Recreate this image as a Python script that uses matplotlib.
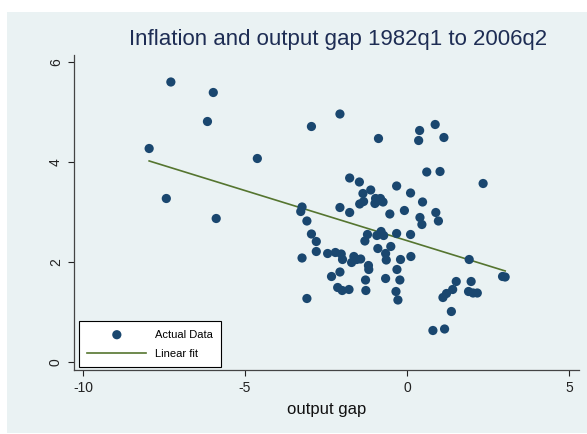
import numpy as np
import matplotlib
matplotlib.use('Agg')
import matplotlib.pyplot as plt
from matplotlib.patches import Rectangle

plt.rcParams['font.family'] = ['Liberation Sans', 'DejaVu Sans']
plt.rcParams['axes.unicode_minus'] = False

# output gap (x) and inflation (y)
gap = [-7.29, -5.98, -6.16, -7.96, -4.62, -7.43, -5.89,
       -2.07, -2.95, -0.88, 0.39, 0.87, 0.36, 1.14, 0.61, 1.02, 2.35,
       -1.77, -1.47, -1.36, -1.12, -0.32, 0.11, 0.48, -1.46, -1.34,
       -0.97, -0.82, -0.99, -0.74, -0.93,
       -2.07, -1.77, -0.08, -0.53, -3.24, -3.28, -3.09, 0.89, 0.40, 0.46, 0.97,
       -2.95, -2.80, -1.22, -1.30, -0.93, -0.80, -0.72, -0.32, 0.11,
       -0.90, -0.50, -0.66, -0.64, -0.20, 0.12,
       -2.80, -3.24, -2.45, -2.21, -2.03, -1.99,
       -1.71, -1.64, -1.55, -1.43, -1.19, -1.18,
       -2.33, -2.07, -1.28, -0.66, -0.31, -0.22,
       -2.14, -2.00, -1.79, -1.27, -0.34, -0.28, -3.09,
       1.92, 2.95, 3.03, 1.52, 1.98, 1.41, 1.22, 1.11, 1.90, 2.04, 2.17,
       1.37, 0.80, 1.16]
infl = [5.60, 5.39, 4.81, 4.27, 4.07, 3.27, 2.87,
        4.96, 4.71, 4.47, 4.63, 4.75, 4.43, 4.49, 3.80, 3.81, 3.57,
        3.68, 3.60, 3.37, 3.44, 3.52, 3.38, 3.20, 3.16, 3.21,
        3.27, 3.27, 3.17, 3.20, 3.21,
        3.09, 2.99, 3.03, 2.96, 3.10, 3.01, 2.82, 2.99, 2.89, 2.75, 2.82,
        2.56, 2.41, 2.55, 2.42, 2.53, 2.61, 2.53, 2.57, 2.55,
        2.27, 2.31, 2.17, 2.04, 2.05, 2.11,
        2.21, 2.08, 2.17, 2.19, 2.16, 2.05,
        1.99, 2.11, 2.05, 2.06, 1.93, 1.85,
        1.71, 1.80, 1.64, 1.67, 1.85, 1.64,
        1.49, 1.43, 1.45, 1.43, 1.41, 1.24, 1.27,
        2.05, 1.71, 1.70, 1.61, 1.61, 1.45, 1.37, 1.29, 1.41, 1.38, 1.38,
        1.01, 0.63, 0.66]

xticks = [-10, -5, 0, 5]
yticks = [0, 2, 4, 6]

bg = '#EAF2F3'
navy = '#1A476F'
green = '#55752F'

fig = plt.figure(figsize=(5.87, 4.34), dpi=100)
fig.patch.set_facecolor('white')
fig.add_artist(Rectangle((7 / 587, 1 / 434), 1 - 7 / 587, 1 - 13 / 434,
                         transform=fig.transFigure, facecolor=bg,
                         edgecolor='none', zorder=-5))

ax = fig.add_axes([74 / 587, 1 - 370 / 434, 505 / 587, 315 / 434])
ax.set_facecolor(bg)

x = np.array(gap)
y = np.array(infl)
ax.scatter(x, y, s=44, color=navy, edgecolors='none', zorder=3,
           label='Actual Data')

# linear fit, like Stata's lfit
b, a = np.polyfit(x, y, 1)
xs = np.array([x.min(), x.max()])
ax.plot(xs, a + b * xs, color=green, lw=1.2, zorder=2, label='Linear fit')

ax.set_xlim(-10.28, 5.31)
ax.set_ylim(-0.16, 6.14)
ax.set_xticks(xticks)
ax.set_yticks(yticks)
ax.tick_params(direction='out', length=4, width=0.8, labelsize=10,
               colors='#222222', pad=4)
for lab in ax.get_yticklabels():
    lab.set_rotation(90)
    lab.set_va('center')
for s in ['top', 'right']:
    ax.spines[s].set_visible(False)
for s in ['left', 'bottom']:
    ax.spines[s].set_color('#444444')
    ax.spines[s].set_linewidth(0.9)

ax.set_xlabel('output gap', fontsize=12, labelpad=5, color='#111111')
fig.text(338 / 587, 1 - 40 / 434,
         'Inflation and output gap 1982q1 to 2006q2',
         ha='center', va='center', fontsize=16, color='#1E2D54')

leg = ax.legend(loc='lower left', bbox_to_anchor=(0.01, 0.01),
                borderaxespad=0, fontsize=8, frameon=True, fancybox=False,
                edgecolor='black', facecolor='white', framealpha=1,
                handlelength=5.3, handletextpad=0.8, borderpad=0.75,
                labelspacing=0.8, scatterpoints=1)
leg.get_frame().set_linewidth(0.8)

fig.savefig('out.png', dpi=100, facecolor=fig.get_facecolor())
